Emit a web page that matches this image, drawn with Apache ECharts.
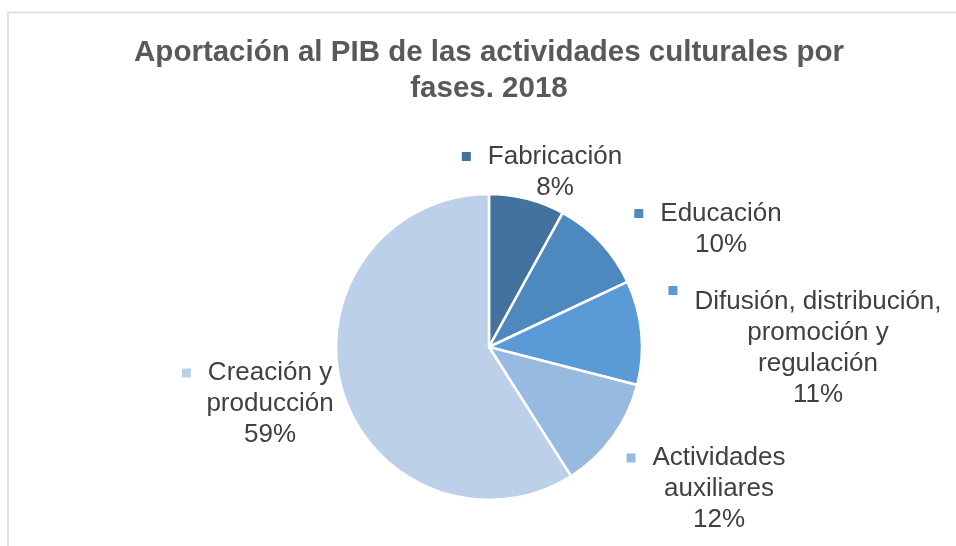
<!DOCTYPE html>
<html>
<head>
<meta charset="utf-8">
<script src="https://cdn.jsdelivr.net/npm/echarts@6/dist/echarts.min.js"></script>
<style>
  html, body { margin: 0; padding: 0; background: #ffffff; }
  #chart { width: 956px; height: 546px; }
</style>
</head>
<body>
<div id="chart"></div>
<script>
// Phases of cultural activity, share of GDP (%) in 2018, clockwise from 12 o'clock
const categories = [
  'Fabricación',
  'Educación',
  'Difusión, distribución, promoción y regulación',
  'Actividades auxiliares',
  'Creación y producción'
];
const shares = [8, 10, 11, 12, 59];

// How each category name wraps in its label
const labelLines = [
  ['Fabricación'],
  ['Educación'],
  ['Difusión, distribución,', 'promoción y', 'regulación'],
  ['Actividades', 'auxiliares'],
  ['Creación y', 'producción']
];

const sliceColors = ['#43729E', '#4D88BE', '#5A9AD6', '#99BAE0', '#BDD0EA'];
// Centre of each label block
const labelAnchors = [[555, 172], [721, 229], [818, 348], [719, 489], [270, 404]];

const FONT = "'Liberation Sans', Arial, Helvetica, sans-serif";

const data = categories.map((name, i) => ({
  name: name,
  value: shares[i],
  itemStyle: { color: sliceColors[i] },
  label: {
    rich: {
      m: {
        width: 9, height: 9,
        backgroundColor: sliceColors[i],
        verticalAlign: i === 2 ? 'top' : 'middle'
      }
    }
  }
}));

const chart = echarts.init(document.getElementById('chart'), null, { renderer: 'canvas' });

chart.setOption({
  animation: false,
  backgroundColor: '#ffffff',
  title: {
    text: 'Aportación al PIB de las actividades culturales por\nfases. 2018',
    left: 489,
    textAlign: 'center',
    top: 35,
    padding: 0,
    textStyle: {
      fontFamily: FONT,
      fontSize: 29.5,
      fontWeight: 'bold',
      color: '#595959',
      lineHeight: 36
    }
  },
  graphic: [{
    type: 'rect',
    silent: true,
    z: -10,
    shape: { x: 8, y: 12.5, width: 1000, height: 600 },
    style: { fill: 'none', stroke: '#D9D9D9', lineWidth: 1.5 }
  }],
  series: [{
    type: 'pie',
    center: [489, 347],
    radius: 153,
    startAngle: 90,
    clockwise: true,
    itemStyle: { borderColor: '#ffffff', borderWidth: 2.5 },
    label: {
      show: true,
      position: 'outside',
      align: 'center',
      overflow: 'none',
      edgeDistance: 0,
      formatter: function (p) {
        const lines = labelLines[p.dataIndex];
        const out = ['{m|}{g|}{t|' + lines[0] + '}{p|}'];
        for (let k = 1; k < lines.length; k++) out.push('{t|' + lines[k] + '}');
        out.push('{t|' + p.value + '%}');
        return out.join('\n');
      },
      rich: {
        t: { fontFamily: FONT, fontSize: 26, lineHeight: 31, color: '#404040' },
        g: { width: 17 },
        p: { width: 26 }
      }
    },
    labelLine: { show: false },
    labelLayout: function (params) {
      const a = labelAnchors[params.dataIndex];
      return { x: a[0], y: a[1], align: 'center', verticalAlign: 'middle' };
    },
    emphasis: { disabled: true },
    data: data
  }]
});
</script>
</body>
</html>
